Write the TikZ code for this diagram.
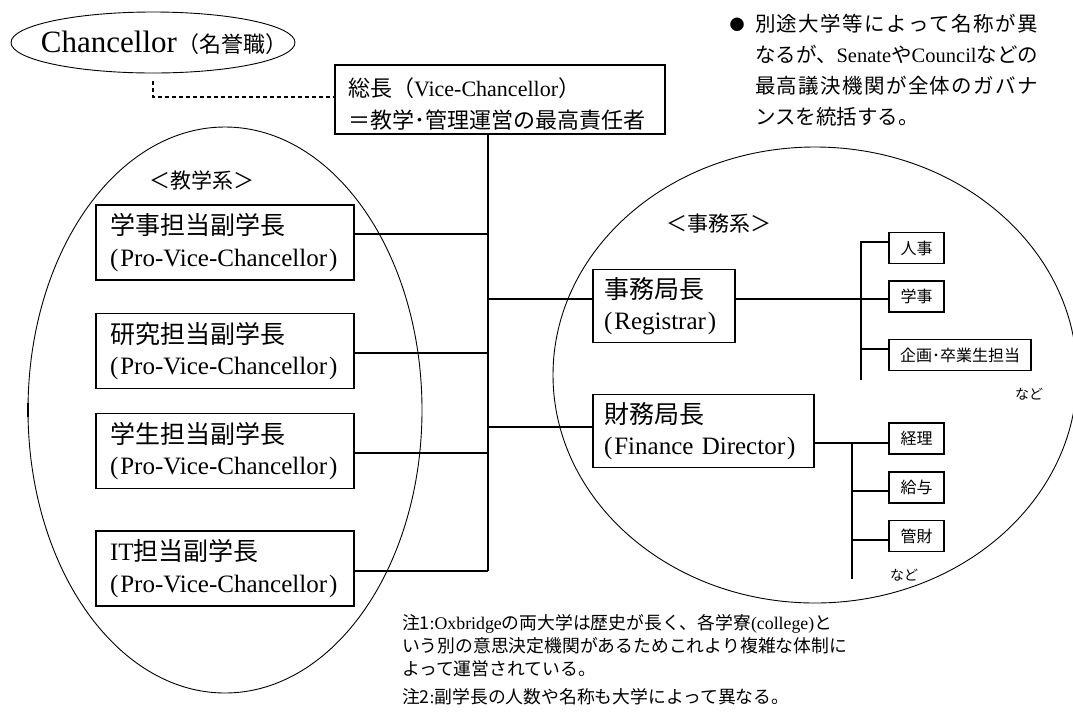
\documentclass[tikz,border=0pt]{standalone}
\usepackage{fontspec}
\setmainfont{Liberation Serif}
\newfontfamily\jp{Noto Sans CJK JP}
\usetikzlibrary{shapes.geometric}
\makeatletter
\def\spr#1{\spr@a#1\spr@end}
\def\spr@end{\spr@end}
\def\spr@a#1{#1\spr@b}
\def\spr@b#1{\ifx#1\spr@end\else\hfil#1\expandafter\spr@b\fi}
\makeatother
\newcommand\lp{(\kern.08em}
\newcommand\rp{\kern.08em)}
\newcommand\fs[2]{\fontsize{#1}{#2}\selectfont}
\begin{document}
\begin{tikzpicture}[x=1pt,y=-1pt,
  every node/.style={inner sep=0pt, outer sep=0pt},
  frame/.style={draw, line width=1.1pt},
  oval/.style={draw, ellipse, line width=0.9pt, inner sep=0pt},
  conn/.style={line width=1.1pt},
  pvc/.style={frame, align=left, minimum width=258pt, minimum height=75pt, text width=230pt, inner xsep=14pt, font=\fs{25}{31.5}},
  dept/.style={frame, align=left, minimum height=73pt, inner xsep=11pt, font=\fs{25}{31.5}},
  unit/.style={frame, minimum width=55pt, minimum height=31pt, font=\jp\fs{16}{16}},
  grp/.style={font=\jp\fs{21}{21}},
  etc/.style={font=\jp\fs{14}{14}},
]
\fill[white] (0,0) rectangle (1073,716);
\useasboundingbox (0,0) rectangle (1073,716);

% containers
\node[oval, minimum width=394pt, minimum height=566pt] (acad) at (225,410) {};
\node[oval, minimum width=524pt, minimum height=456pt] (admin) at (815,375) {};
\draw[line width=2.2pt] ([yshift=7pt]acad.west) -- ([yshift=-7pt]acad.west);

% Chancellor
\node[oval, minimum width=284pt, minimum height=61pt] (chan) at (153,42.5) {};
\node (chant) at (164,43) {\fs{31}{31}Chancellor{\jp\fs{22}{22}（名誉職）}};

% Vice-Chancellor
\node[frame, minimum width=330pt, minimum height=69pt, anchor=north west] (vc) at (335,65) {};
\node[anchor=west, align=left, font=\jp\fs{22}{32.5}] (vct) at ([xshift=13pt,yshift=-4.5pt]vc.west) {総長（{\rmfamily Vice-Chancellor}）\\＝教学･管理運営の最高責任者};

% academic side
\node[grp] (acadl) at (201.5,180) {＜教学系＞};
\node[pvc] (p1) at (225,242.5) {{\jp 学事担当副学長}\\\lp Pro-Vice-Chancellor\rp};
\node[pvc] (p2) at (225,351) {{\jp 研究担当副学長}\\\lp Pro-Vice-Chancellor\rp};
\node[pvc] (p3) at (225,451) {{\jp 学生担当副学長}\\\lp Pro-Vice-Chancellor\rp};
\node[pvc] (p4) at (225,568.5) {IT{\jp 担当副学長}\\\lp Pro-Vice-Chancellor\rp};

% administrative side
\node[grp] (adminl) at (718.5,224) {＜事務系＞};
\node[dept, text width=120pt, minimum width=142pt] (reg) at (664,306) {{\jp 事務局長}\\\lp Registrar\rp};
\node[dept, text width=199pt, minimum width=221pt] (fin) at (703.5,431) {{\jp 財務局長}\\\lp Finance Director\rp};

\node[unit] (jinji) at (916.5,248) {人事};
\node[unit] (gakuji) at (916.5,296.5) {学事};
\node[unit, minimum width=142pt] (kikaku) at (960,355) {企画･卒業生担当};
\node[unit] (keiri) at (916.5,438.5) {経理};
\node[unit] (kyuyo) at (916.5,487.5) {給与};
\node[unit] (kanzai) at (916.5,536) {管財};
\node[etc] (etc1) at (1029,394) {など};
\node[etc] (etc2) at (904,575) {など};

% notes
\node[font=\jp\fs{15}{15}] (bul) at (737,25) {●};
\node[anchor=north west, align=left, font=\jp\fs{20.5}{31}] (gov) at (755,14) {\hbox to 283pt{\spr{別途大学等によって名称が異}}\\なるが、{\rmfamily Senate}や{\rmfamily Council}などの\\\hbox to 283pt{\spr{最高議決機関が全体のガバナ}}\\ンスを統括する。};
\node[anchor=north west, align=left, font=\jp\fs{17.8}{23}] (notes) at (402,614) {\hbox to 430pt{\spr{注1{{\rmfamily :}}{{\rmfamily Oxbridge}}の両大学は歴史が長く、各学寮{{\rmfamily(college)}}と}}\\\hbox to 430pt{\spr{いう別の意思決定機関があるためこれより複雑な体制に}}\\よって運営されている。\\[5pt]注2{\rmfamily :}副学長の人数や名称も大学によって異なる。};

% connectors
\coordinate (T) at (488,0);
\coordinate (B1) at (861,380);
\coordinate (B2) at (852,579);
\draw[conn, dash pattern=on 4pt off 3pt, shorten <=8pt] (chan.south) |- ([yshift=2.5pt]vc.west);
\draw[conn] (vc.south -| T) -- ([yshift=-2.5pt]p4.east -| T);
\draw[conn] ([yshift=8.5pt]p1.east) -- ([yshift=8.5pt]p1.east -| T);
\draw[conn] ([yshift=-2pt]p2.east) -- ([yshift=-2pt]p2.east -| T);
\draw[conn] ([yshift=-2pt]p3.east) -- ([yshift=-2pt]p3.east -| T);
\draw[conn] ([yshift=-2.5pt]p4.east) -- ([yshift=-2.5pt]p4.east -| T);
\draw[conn] ([yshift=7pt]reg.west -| T) -- ([yshift=7pt]reg.west);
\draw[conn] ([yshift=4pt]fin.west -| T) -- ([yshift=4pt]fin.west);
\draw[conn] ([yshift=7pt]reg.east) -- ([yshift=7pt]reg.east -| gakuji.west);
\draw[conn] ([yshift=6pt]jinji.west) -| (B1);
\draw[conn] ([yshift=6pt]kikaku.west) -- ([yshift=6pt]kikaku.west -| B1);
\draw[conn] ([yshift=-12pt]fin.east) -- ([yshift=-12pt]fin.east -| keiri.west);
\draw[conn] ([yshift=-12pt]fin.east -| B2) -- (B2);
\draw[conn] ([yshift=-3.5pt]kyuyo.west) -- ([yshift=-3.5pt]kyuyo.west -| B2);
\draw[conn] ([yshift=-4pt]kanzai.west) -- ([yshift=-4pt]kanzai.west -| B2);
\end{tikzpicture}
\end{document}
